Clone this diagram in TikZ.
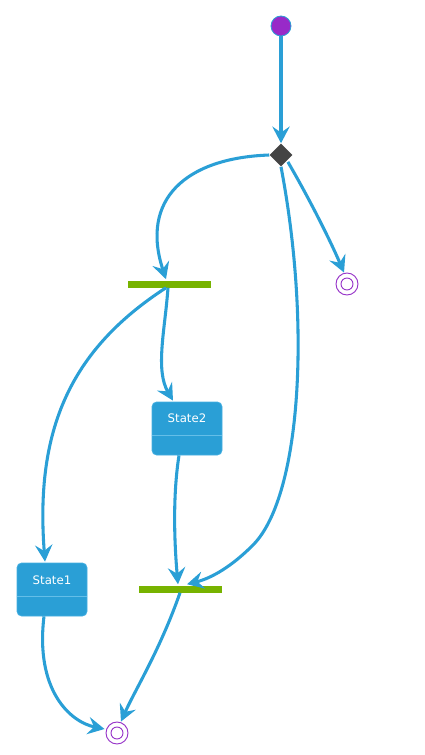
\documentclass[tikz,border=0pt]{standalone}
\usepackage{fontspec}
\setsansfont{DejaVu Sans}
\usetikzlibrary{arrows.meta,calc,shapes.geometric}
\definecolor{lineblue}{RGB}{42,159,214}
\definecolor{boxedge}{RGB}{70,175,225}
\definecolor{divline}{RGB}{100,190,232}
\definecolor{bargreen}{RGB}{119,179,0}
\definecolor{diamgray}{RGB}{68,68,68}
\definecolor{startpurple}{RGB}{152,42,200}
\definecolor{endpurple}{RGB}{150,50,200}
\tikzset{
  conn/.style={draw=lineblue, line width=2.3pt,
    -{Stealth[length=12.5pt,width=13pt,inset=4.5pt]}},
  statebox/.style={draw=boxedge, fill=lineblue, rounded corners=3.5pt,
    minimum width={70*0.75pt}, minimum height={53*0.75pt}, line width=0.6pt, inner sep=0pt},
  bar/.style={fill=bargreen, draw=none, minimum width={83*0.75pt}, minimum height={7*0.75pt}, inner sep=0pt},
  startst/.style={circle, fill=startpurple, draw=lineblue, line width=0.6pt, minimum size={20*0.75pt}, inner sep=0pt},
  finalst/.style={circle, fill=white, draw=endpurple, line width=0.7pt, minimum size={22*0.75pt}, inner sep=0pt},
  decis/.style={diamond, fill=diamgray, draw=none, minimum size={23*0.75pt}, inner sep=0pt},
  lbl/.style={text=white, font=\sffamily\fontsize{8.8}{10}\selectfont}
}
\begin{document}
\begin{tikzpicture}[x=0.75pt,y=-0.75pt]
\useasboundingbox (0,0) rectangle (424,755);
% nodes
\node[startst] (start) at (281,26) {};
\node[decis] (dec) at (281,155) {};
\node[bar] (fork) at (169,284) {};
\node[bar] (join) at (180,589) {};
\node[finalst] (fin1) at (347,284) {};
\node[finalst] (fin2) at (117,733) {};
\node[statebox] (s2) at (187,428.5) {};
\node[statebox] (s1) at (52,589.5) {};
% inner rings of final states
\draw[endpurple, line width=0.7pt] (fin1) circle ({6*0.75pt});
\draw[endpurple, line width=0.7pt] (fin2) circle ({6*0.75pt});
% state labels and dividers
\node[lbl] (s2t) at (187,418) {State2};
\node[lbl] (s1t) at (52,580) {State1};
\draw[divline, line width=0.6pt] ($(s2.west)+(0,7)$) -- ($(s2.east)+(0,7)$);
\draw[divline, line width=0.6pt] ($(s1.west)+(0,7)$) -- ($(s1.east)+(0,7)$);
% connectors
\draw[conn] (start.south) -- (dec.north);
\draw[conn] (dec.west) .. controls (185,158) and (140,200) .. ($(fork.north)+(-3,-1)$);
\draw[conn] (dec.south) .. controls (312,330) and (300,500) .. (252,546)
   .. controls (232,566) and (212,578) .. ($(join.north)+(7,-1)$);
\draw[conn] ($(dec.south east)+(1,1)$) .. controls (310,200) and (330,240) .. ($(fin1.north)+(-3,0)$);
\draw[conn] ($(fork.south)+(-1,0)$) .. controls (165,330) and (155,370) .. ($(s2.north)+(-14,-1)$);
\draw[conn] ($(fork.south)+(-3,0)$) .. controls (70,350) and (35,430) .. ($(s1.north)+(-7,-1)$);
\draw[conn] ($(s2.south)+(-8,0)$) .. controls (172,500) and (175,550) .. ($(join.north)+(-2,-1)$);
\draw[conn] ($(s1.south)+(-8,0)$) .. controls (35,690) and (70,722) .. ($(fin2.west)+(-1,-4)$);
\draw[conn] ($(join.south)+(0,0)$) .. controls (160,650) and (135,690) .. ($(fin2.north)+(4,0)$);
\end{tikzpicture}
\end{document}
